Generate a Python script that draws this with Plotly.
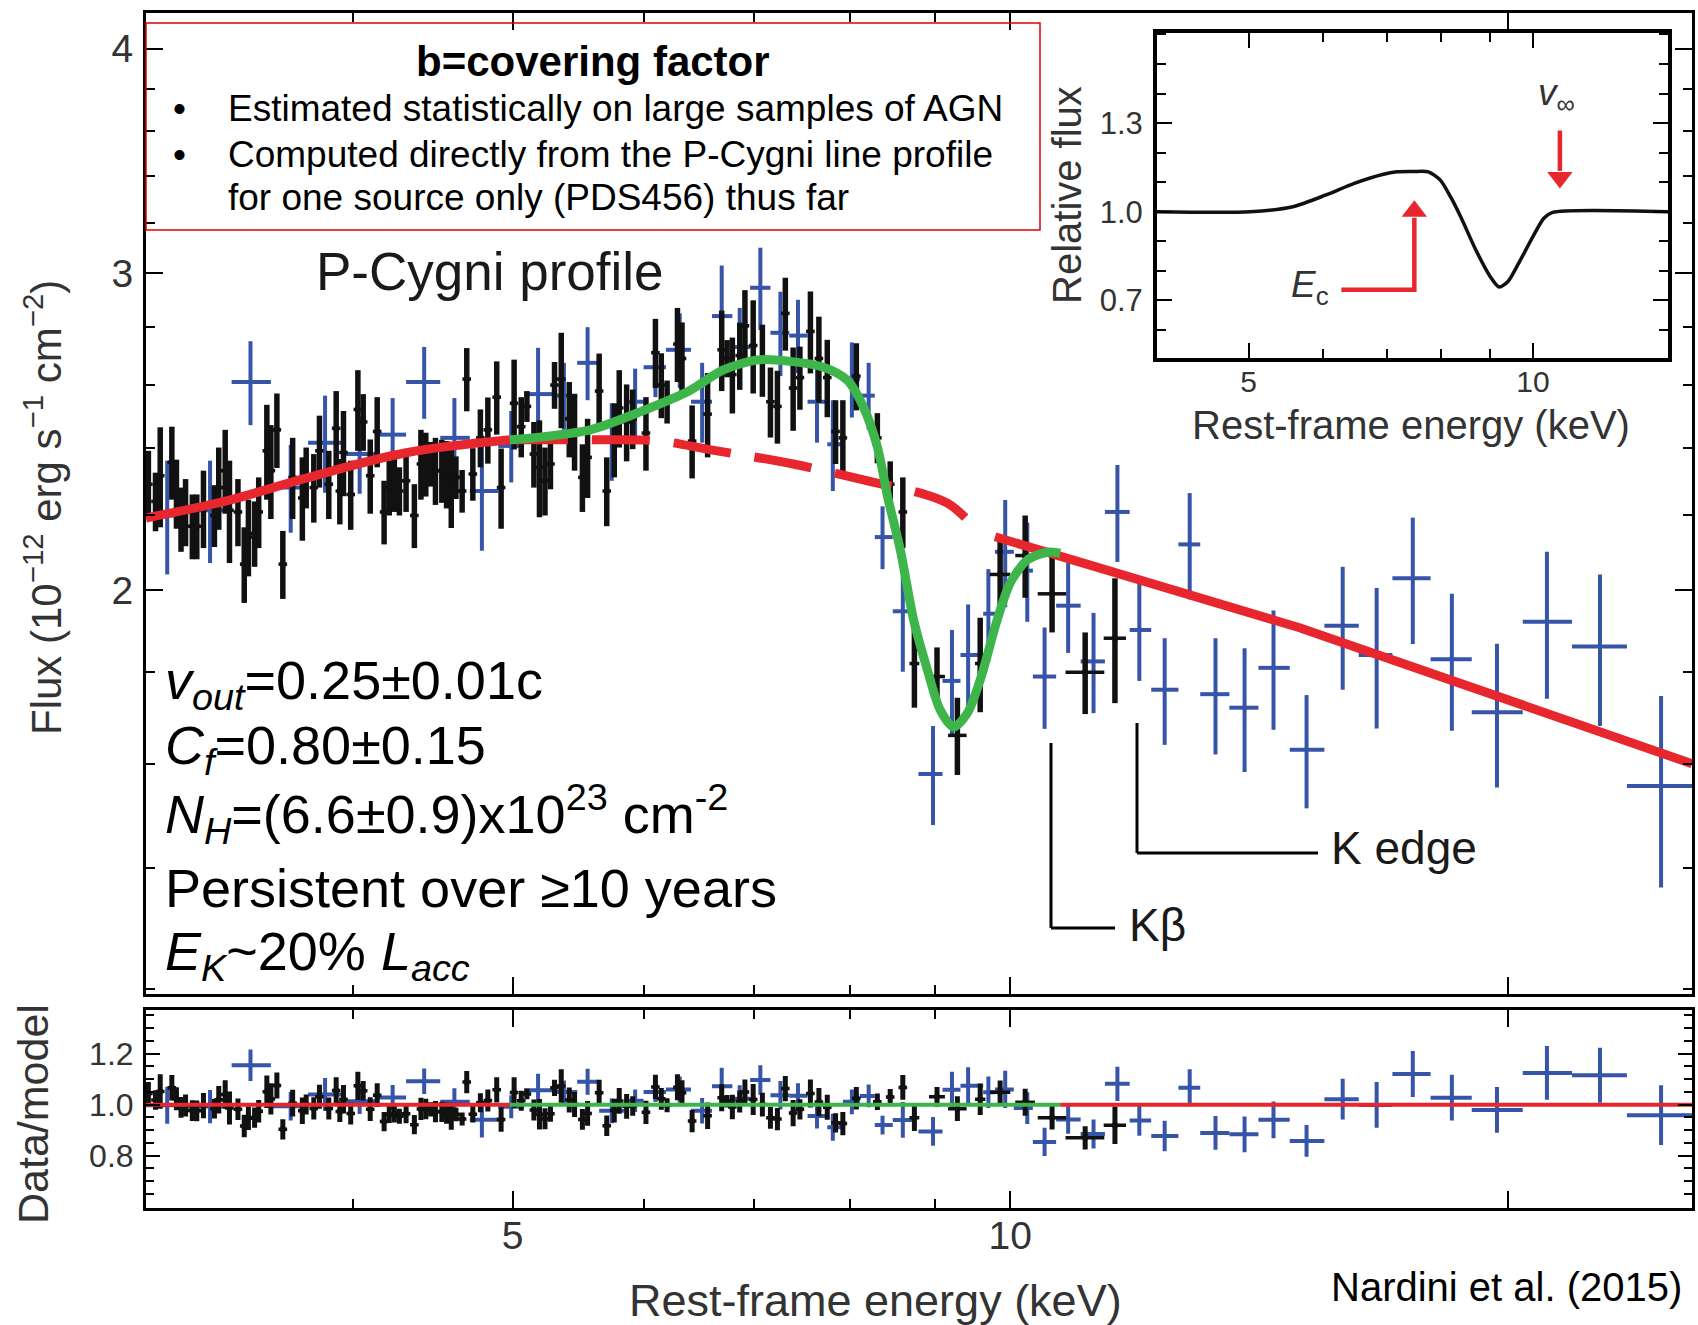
import numpy as np
import plotly.graph_objects as go

W, H = 1698, 1325

# ---------------- data ----------------
# XMM-Newton spectrum (black): rest-frame energy (keV), flux (1e-12 cgs), 1-sigma error
XMM_E = [3.01, 3.04, 3.06, 3.11, 3.13, 3.15, 3.17, 3.20, 3.22, 3.25,
         3.30, 3.32, 3.35, 3.37, 3.41, 3.44, 3.46, 3.49, 3.51, 3.55,
         3.57, 3.60, 3.63, 3.68, 3.73, 3.75, 3.79, 3.82, 3.87, 3.91,
         3.93, 3.95, 3.99, 4.03, 4.06, 4.10, 4.14, 4.18, 4.21, 4.24,
         4.27, 4.31, 4.36, 4.40, 4.43, 4.46, 4.49, 4.53, 4.56, 4.59,
         4.62, 4.66, 4.69, 4.73, 4.78, 4.83, 4.89, 4.92, 5.01, 5.06,
         5.10, 5.15, 5.19, 5.23, 5.27, 5.30,
         5.35, 5.41, 5.45, 5.51, 5.55, 5.64, 5.70, 5.76, 5.80, 5.86,
         5.91, 6.02, 6.10, 6.15, 6.20, 6.29, 6.33, 6.42, 6.56, 6.69,
         6.74, 6.79, 6.86, 6.91, 6.99, 7.08, 7.16, 7.23, 7.31, 7.39,
         7.46, 7.57, 7.66, 7.75, 7.84, 7.92, 8.07, 8.31, 8.46, 8.61,
         8.75, 9.03, 9.29, 9.59, 9.86, 10.21, 10.60, 11.10, 11.57]
XMM_F = [2.29, 2.24, 2.315, 2.355, 2.263, 2.19, 2.21, 2.17, 2.17, 2.22,
         2.20, 2.28, 2.33, 2.215, 2.21, 2.067, 2.14, 2.15, 2.21, 2.39,
         2.33, 2.455, 2.067, 2.31, 2.25, 2.31, 2.28, 2.39, 2.29, 2.46,
         2.27, 2.385, 2.26, 2.52, 2.48, 2.315, 2.45, 2.21, 2.28, 2.29,
         2.27, 2.30, 2.20, 2.35, 2.35, 2.35, 2.33, 2.33, 2.32, 2.29,
         2.31, 2.27, 2.62, 2.32, 2.43, 2.455, 2.56, 2.28, 2.54, 2.465,
         2.53, 2.38, 2.34, 2.30, 2.35, 2.60,
         2.62, 2.49, 2.45, 2.31, 2.37, 2.58, 2.27, 2.425, 2.525, 2.48,
         2.49, 2.445, 2.71, 2.60, 2.545, 2.74, 2.69, 2.42, 2.505, 2.72,
         2.69, 2.635, 2.70, 2.805, 2.735, 2.685, 2.545, 2.53, 2.85, 2.59,
         2.625, 2.785, 2.69, 2.625, 2.45, 2.43, 2.63, 2.43, 2.29, 2.21,
         1.82, 1.79, 1.66, 1.82, 2.04, 2.09, 1.99, 1.80, 1.88]
XMM_ERR = [0.10, 0.084, 0.148, 0.11, 0.10, 0.09, 0.095, 0.09, 0.09, 0.11,
           0.087, 0.12, 0.125, 0.145, 0.095, 0.10, 0.105, 0.09, 0.10, 0.145,
           0.14, 0.117, 0.09, 0.12, 0.12, 0.09, 0.10, 0.11, 0.10, 0.12,
           0.095, 0.13, 0.10, 0.13, 0.09, 0.11, 0.11, 0.09, 0.08, 0.08,
           0.07, 0.09, 0.09, 0.105, 0.096, 0.067, 0.10, 0.094, 0.10, 0.125,
           0.063, 0.062, 0.106, 0.078, 0.09, 0.104, 0.12, 0.117, 0.146, 0.095,
           0.05, 0.10, 0.145, 0.10, 0.075, 0.078,
           0.16, 0.12, 0.12, 0.10, 0.12, 0.127, 0.10, 0.115, 0.125, 0.122,
           0.095, 0.115, 0.12, 0.108, 0.07, 0.13, 0.127, 0.113, 0.135, 0.14,
           0.064, 0.128, 0.116, 0.131, 0.163, 0.124, 0.114, 0.118, 0.133, 0.138,
           0.106, 0.146, 0.148, 0.13, 0.10, 0.12, 0.113, 0.078, 0.068, 0.10,
           0.10, 0.068, 0.082, 0.11, 0.09, 0.11, 0.096, 0.094, 0.15]
# energy half-width of the XMM bins (narrow bins below 8.7 keV, wider ones above)
XMM_NARROW_FRAC = 0.006
XMM_TAIL_DE = [0.06, 0.10, 0.12, 0.07, 0.14, 0.14, 0.21, 0.30, 0.18]

# NuSTAR spectrum (blue): bin centre, bin edges, flux, error
NU_E = [3.09, 3.28, 3.47, 3.67, 3.85, 4.04, 4.23, 4.42, 4.61, 4.79,
        4.99, 5.18, 5.37, 5.55, 5.74, 5.93, 6.10, 6.31, 6.51, 6.69,
        6.86, 7.06, 7.26, 7.44, 7.64, 7.81, 8.02, 8.21, 8.37, 8.61,
        8.98, 9.22, 9.43, 9.70, 9.93, 10.24, 10.49, 10.84, 11.23, 11.61,
        11.97, 12.40, 12.84, 13.31, 13.86, 14.43, 15.11, 15.89, 16.66, 17.52,
        18.50, 19.70, 21.12, 22.74, 24.76]
NU_LO = [3.00, 3.18, 3.38, 3.57, 3.76, 3.95, 4.14, 4.31, 4.52, 4.71,
         4.90, 5.08, 5.29, 5.47, 5.64, 5.84, 6.00, 6.19, 6.41, 6.60,
         6.79, 6.96, 7.16, 7.35, 7.54, 7.75, 7.92, 8.11, 8.28, 8.49,
         8.80, 9.10, 9.33, 9.63, 9.79, 10.05, 10.32, 10.66, 11.03, 11.41,
         11.81, 12.17, 12.64, 13.03, 13.57, 14.13, 14.76, 15.49, 16.25, 17.03,
         17.96, 19.02, 20.42, 21.87, 23.61]
NU_HI = [3.18, 3.38, 3.57, 3.76, 3.95, 4.14, 4.31, 4.52, 4.71, 4.90,
         5.08, 5.29, 5.47, 5.64, 5.84, 6.00, 6.19, 6.41, 6.60, 6.79,
         6.96, 7.16, 7.35, 7.54, 7.75, 7.92, 8.11, 8.28, 8.49, 8.72,
         9.10, 9.33, 9.63, 9.79, 10.05, 10.32, 10.66, 11.03, 11.41, 11.81,
         12.17, 12.64, 13.03, 13.57, 14.13, 14.76, 15.49, 16.25, 17.03, 17.96,
         19.02, 20.42, 21.87, 23.61, 25.88]
NU_F = [2.20, 2.215, 2.61, 2.28, 2.415, 2.38, 2.44, 2.61, 2.43, 2.27,
        2.405, 2.57, 2.565, 2.675, 2.42, 2.545, 2.66, 2.72, 2.545, 2.84,
        2.73, 2.945, 2.78, 2.77, 2.545, 2.41, 2.62, 2.565, 2.14, 1.946,
        1.58, 1.78, 1.84, 1.94, 2.10, 2.05, 1.79, 1.96, 1.825, 2.21,
        1.90, 1.76, 2.12, 1.75, 1.72, 1.81, 1.63, 1.91, 1.84, 2.03,
        1.83, 1.71, 1.92, 1.86, 1.556]
NU_ERR = [0.16, 0.145, 0.14, 0.128, 0.15, 0.118, 0.117, 0.12, 0.127, 0.167,
          0.11, 0.157, 0.11, 0.125, 0.12, 0.11, 0.10, 0.13, 0.13, 0.19,
          0.14, 0.155, 0.15, 0.13, 0.13, 0.14, 0.126, 0.11, 0.086, 0.145,
          0.10, 0.12, 0.123, 0.114, 0.144, 0.13, 0.116, 0.115, 0.117, 0.137,
          0.12, 0.12, 0.144, 0.13, 0.136, 0.138, 0.118, 0.15, 0.165, 0.164,
          0.16, 0.157, 0.18, 0.18, 0.19]

# continuum model (red)
CONT_E = [3.00, 3.37, 3.75, 4.31, 4.98, 5.64, 6.14, 6.59, 7.39, 8.26,
          8.91, 9.20, 9.52, 9.79, 14.98, 25.85]
CONT_F = [2.193, 2.244, 2.308, 2.384, 2.424, 2.424, 2.42, 2.393, 2.35, 2.296,
          2.258, 2.230, 2.166, 2.141, 1.905, 1.601]
DASH_FROM, DASH_TO, SOLID_FROM = 4.98, 9.52, 9.79

# P-Cygni model (green)
PCYG_E = [4.98, 5.19, 5.57, 5.97, 6.40, 6.70, 7.03, 7.36, 7.71, 7.97,
          8.15, 8.31, 8.43, 8.58, 8.74, 8.91, 9.07, 9.24, 9.42, 9.59,
          9.82, 10.00, 10.24, 10.53, 10.72]
PCYG_F = [2.424, 2.432, 2.455, 2.512, 2.582, 2.650, 2.685, 2.680, 2.660, 2.616,
          2.528, 2.402, 2.253, 2.105, 1.925, 1.805, 1.715, 1.678, 1.708, 1.782,
          1.925, 2.018, 2.078, 2.099, 2.096]

# inset: relative P-Cygni profile
INSET_E = [4.0, 5.02, 5.57, 6.03, 6.47, 6.93, 7.18, 7.47, 7.75, 7.98,
           8.18, 8.40, 8.70, 9.01, 9.21, 9.41, 9.66, 10.0, 10.27, 10.49, 13.9]
INSET_R = [1.0, 1.0, 1.017, 1.056, 1.096, 1.126, 1.135, 1.136, 1.135, 1.107,
           1.051, 0.978, 0.871, 0.781, 0.745, 0.764, 0.826, 0.916, 0.978, 0.998, 1.0]
EC_E, EC_TAIL_E, EC_BASE_R, EC_TIP_R = 7.49, 6.27, 0.736, 1.039
VINF_E, VINF_TOP_R, VINF_TIP_R = 10.68, 1.275, 1.079

# ---------------- helpers ----------------
FONT = "Liberation Sans, Arial, sans-serif"
BLUE = "#3654a8"
BLACK = "#111111"
RED = "#e8262d"
GREEN = "#3db54a"
GREY = "#333333"


def px(x):
    return x / W


def py(y):
    return 1 - y / H


def loglog_interp(e, E, F):
    return 10 ** np.interp(np.log10(e), np.log10(E), np.log10(F))


def model_at(e):
    e = np.asarray(e, dtype=float)
    cont = loglog_interp(e, CONT_E, CONT_F)
    pc = loglog_interp(e, PCYG_E, PCYG_F)
    inside = (e >= PCYG_E[0]) & (e <= PCYG_E[-1])
    return np.where(inside, pc, cont)


xe = np.array(XMM_E)
xf = np.array(XMM_F)
xr = np.array(XMM_ERR)
n_tail = len(XMM_TAIL_DE)
xde = np.concatenate([xe[:-n_tail] * XMM_NARROW_FRAC, np.array(XMM_TAIL_DE)])

ne = np.array(NU_E)
nlo = np.array(NU_LO)
nhi = np.array(NU_HI)
nf = np.array(NU_F)
nr = np.array(NU_ERR)

ce = np.array(CONT_E)
cf = np.array(CONT_F)

fig = go.Figure()

# ---------------- main panel ----------------
fig.add_trace(go.Scatter(
    x=ne, y=nf, mode="markers", marker=dict(size=2, color=BLUE),
    error_y=dict(type="data", array=nr, thickness=4, width=0, color=BLUE),
    error_x=dict(type="data", symmetric=False, array=nhi - ne, arrayminus=ne - nlo,
                 thickness=4, width=0, color=BLUE),
    xaxis="x", yaxis="y", hoverinfo="skip"))
fig.add_trace(go.Scatter(
    x=xe, y=xf, mode="markers", marker=dict(size=5, color=BLACK, symbol="square"),
    error_y=dict(type="data", array=xr, thickness=5.5, width=0, color=BLACK),
    error_x=dict(type="data", array=xde, thickness=3.5, width=0, color=BLACK),
    xaxis="x", yaxis="y", hoverinfo="skip"))

m1 = ce <= DASH_FROM
m2 = (ce >= DASH_FROM) & (ce <= DASH_TO)
m3 = ce >= SOLID_FROM
fig.add_trace(go.Scatter(x=ce[m1], y=cf[m1], mode="lines", line=dict(color=RED, width=9, shape="spline"),
                         xaxis="x", yaxis="y", hoverinfo="skip"))
fig.add_trace(go.Scatter(x=ce[m2], y=cf[m2], mode="lines",
                         line=dict(color=RED, width=9, shape="spline", dash="58px,24px"),
                         xaxis="x", yaxis="y", hoverinfo="skip"))
fig.add_trace(go.Scatter(x=ce[m3], y=cf[m3], mode="lines", line=dict(color=RED, width=9),
                         xaxis="x", yaxis="y", hoverinfo="skip"))
fig.add_trace(go.Scatter(x=PCYG_E, y=PCYG_F, mode="lines",
                         line=dict(color=GREEN, width=9, shape="spline", smoothing=0.8),
                         xaxis="x", yaxis="y", hoverinfo="skip"))

# ---------------- residual panel ----------------
nmod = model_at(ne)
xmod = model_at(xe)
fig.add_trace(go.Scatter(
    x=ne, y=nf / nmod, mode="markers", marker=dict(size=2, color=BLUE),
    error_y=dict(type="data", array=nr / nmod, thickness=4, width=0, color=BLUE),
    error_x=dict(type="data", symmetric=False, array=nhi - ne, arrayminus=ne - nlo,
                 thickness=4, width=0, color=BLUE),
    xaxis="x2", yaxis="y2", hoverinfo="skip"))
fig.add_trace(go.Scatter(
    x=xe, y=xf / xmod, mode="markers", marker=dict(size=5, color=BLACK, symbol="square"),
    error_y=dict(type="data", array=xr / xmod, thickness=5, width=0, color=BLACK),
    error_x=dict(type="data", array=xde, thickness=3.5, width=0, color=BLACK),
    xaxis="x2", yaxis="y2", hoverinfo="skip"))
fig.add_trace(go.Scatter(x=[CONT_E[0], PCYG_E[0]], y=[1, 1], mode="lines",
                         line=dict(color=RED, width=4), xaxis="x2", yaxis="y2", hoverinfo="skip"))
fig.add_trace(go.Scatter(x=[PCYG_E[-1], CONT_E[-1]], y=[1, 1], mode="lines",
                         line=dict(color=RED, width=4), xaxis="x2", yaxis="y2", hoverinfo="skip"))
fig.add_trace(go.Scatter(x=[PCYG_E[0], PCYG_E[-1]], y=[1, 1], mode="lines",
                         line=dict(color=GREEN, width=4), xaxis="x2", yaxis="y2", hoverinfo="skip"))

# ---------------- inset ----------------
fig.add_trace(go.Scatter(x=INSET_E, y=INSET_R, mode="lines",
                         line=dict(color=BLACK, width=3.5, shape="spline", smoothing=0.7),
                         xaxis="x3", yaxis="y3", hoverinfo="skip"))
head = 0.037
fig.add_trace(go.Scatter(x=[EC_TAIL_E, EC_E, EC_E], y=[EC_BASE_R, EC_BASE_R, EC_TIP_R - 1.6 * head],
                         mode="lines", line=dict(color=RED, width=4.5),
                         xaxis="x3", yaxis="y3", hoverinfo="skip"))
fig.add_trace(go.Scatter(x=[EC_E], y=[EC_TIP_R - head], mode="markers",
                         marker=dict(symbol="triangle-up", size=22, color=RED),
                         xaxis="x3", yaxis="y3", hoverinfo="skip"))
fig.add_trace(go.Scatter(x=[VINF_E, VINF_E], y=[VINF_TOP_R, VINF_TIP_R + 1.6 * head],
                         mode="lines", line=dict(color=RED, width=4.5),
                         xaxis="x3", yaxis="y3", hoverinfo="skip"))
fig.add_trace(go.Scatter(x=[VINF_E], y=[VINF_TIP_R + head], mode="markers",
                         marker=dict(symbol="triangle-down", size=22, color=RED),
                         xaxis="x3", yaxis="y3", hoverinfo="skip"))

# ---------------- axes ----------------
XR = [np.log10(3.0), np.log10(25.85)]
XDOM = [px(146), px(1692)]


def frame(width=3):
    return dict(showline=True, linewidth=width, linecolor="black", mirror="ticks",
                showgrid=False, zeroline=False, ticks="inside", tickcolor="black")


main_minor_y = [1.2, 1.4, 1.6, 1.8, 2.2, 2.4, 2.6, 2.8, 3.2, 3.4, 3.6, 3.8, 4.2]

fig.update_layout(
    width=W, height=H, margin=dict(l=0, r=0, t=0, b=0),
    paper_bgcolor="white", plot_bgcolor="white", showlegend=False,
    font=dict(family=FONT, color=GREY),
    xaxis=dict(domain=XDOM, anchor="y", type="log", range=XR,
               tickvals=[5, 10, 20], showticklabels=False, ticklen=17, tickwidth=2,
               minor=dict(tickvals=[4, 6, 7, 8, 9], ticklen=9, tickwidth=2, ticks="inside",
                          tickcolor="black"),
               **frame(3)),
    yaxis=dict(domain=[py(994), py(13)], anchor="x", type="log",
               range=[np.log10(1.192), np.log10(4.187)],
               tickvals=[2, 3, 4], ticktext=["2", "3", "4"], ticklen=17, tickwidth=2,
               tickfont=dict(size=39, color=GREY), ticklabelstandoff=2,
               minor=dict(tickvals=main_minor_y, ticklen=9, tickwidth=2, ticks="inside",
                          tickcolor="black"),
               **frame(3)),
    xaxis2=dict(domain=XDOM, anchor="y2", type="log", range=XR,
                tickvals=[5, 10, 20], ticktext=["5", "10", ""], ticklen=17, tickwidth=2,
                tickfont=dict(size=39, color=GREY), ticklabelstandoff=-8,
                minor=dict(tickvals=[4, 6, 7, 8, 9], ticklen=9, tickwidth=2, ticks="inside",
                           tickcolor="black"),
                **frame(3)),
    yaxis2=dict(domain=[py(1207.5), py(1010)], anchor="x2", range=[0.597, 1.371],
                tickvals=[0.8, 1.0, 1.2], ticktext=["0.8", "1.0", "1.2"], ticklen=14, tickwidth=2,
                tickfont=dict(size=32, color=GREY), ticklabelstandoff=3,
                minor=dict(dtick=0.05, ticklen=8, tickwidth=1.5, ticks="inside", tickcolor="black"),
                **frame(3)),
    xaxis3=dict(domain=[px(1157), px(1668)], anchor="y3", type="log",
                range=[np.log10(4.0), np.log10(13.9)],
                tickvals=[5, 10], ticktext=["5", "10"], ticklen=15, tickwidth=2,
                tickfont=dict(size=30, color=GREY), ticklabelstandoff=-6,
                minor=dict(tickvals=[6, 7, 8, 9], ticklen=9, tickwidth=2, ticks="inside",
                           tickcolor="black"),
                **frame(4)),
    yaxis3=dict(domain=[py(358), py(33)], anchor="x3", range=[0.505, 1.605],
                tickvals=[0.7, 1.0, 1.3], ticktext=["0.7", "1.0", "1.3"], ticklen=15, tickwidth=2,
                tickfont=dict(size=31, color=GREY), ticklabelstandoff=4,
                minor=dict(dtick=0.1, ticklen=9, tickwidth=2, ticks="inside", tickcolor="black"),
                **frame(4)),
)

# ---------------- shapes ----------------
shapes = [
    dict(type="rect", xref="paper", yref="paper", x0=px(146), x1=px(1040), y0=py(230), y1=py(23),
         line=dict(color="#e00000", width=1.5)),
    # K-beta bracket
    dict(type="line", xref="paper", yref="paper", x0=px(1051), x1=px(1051), y0=py(743), y1=py(928),
         line=dict(color="black", width=3)),
    dict(type="line", xref="paper", yref="paper", x0=px(1051), x1=px(1115), y0=py(928), y1=py(928),
         line=dict(color="black", width=3)),
    # K edge bracket
    dict(type="line", xref="paper", yref="paper", x0=px(1137), x1=px(1137), y0=py(723), y1=py(853),
         line=dict(color="black", width=3)),
    dict(type="line", xref="paper", yref="paper", x0=px(1137), x1=px(1318), y0=py(853), y1=py(853),
         line=dict(color="black", width=3)),
]
fig.update_layout(shapes=shapes)


def ann(text, x, y, size, color="black", xanchor="left", angle=0, bold=False):
    if bold:
        text = "<b>" + text + "</b>"
    return dict(text=text, x=px(x), y=py(y), xref="paper", yref="paper", showarrow=False,
                xanchor=xanchor, yanchor="middle", textangle=angle,
                font=dict(family=FONT, size=size, color=color))


anns = [
    ann("b=covering factor", 593, 62, 42, xanchor="center", bold=True),
    ann("•", 179, 108, 37, xanchor="center"),
    ann("Estimated statistically on large samples of AGN", 226, 108, 37),
    ann("•", 179, 154, 37, xanchor="center"),
    ann("Computed directly from the P-Cygni line profile", 226, 154, 37),
    ann("for one source only (PDS456) thus far", 226, 197, 37),
    ann("P-Cygni profile", 490, 271, 53, color="#1a1a1a", xanchor="center"),
    ann("<i>v<sub>out</sub></i>=0.25±0.01c", 163, 684, 54),
    ann("<i>C<sub>f</sub></i>=0.80±0.15", 163, 749, 54),
    ann("<i>N<sub>H</sub></i>=(6.6±0.9)x10<sup>23</sup> cm<sup>-2</sup>", 163, 814, 54),
    ann("Persistent over ≥10 years", 163, 888, 54),
    ann("<i>E<sub>K</sub></i>~20% <i>L<sub>acc</sub></i>", 163, 955, 54),
    ann("Kβ", 1127, 925, 46, color="#1a1a1a"),
    ann("K edge", 1329, 848, 46, color="#1a1a1a"),
    ann("Nardini et al. (2015)", 1684, 1287, 40, xanchor="right"),
    ann("Flux (10<sup>−12</sup> erg s<sup>−1</sup> cm<sup>−2</sup>)", 43, 508, 42, color=GREY,
        xanchor="center", angle=-90),
    ann("Data/model", 33, 1114, 43, color=GREY, xanchor="center", angle=-90),
    ann("Rest-frame energy (keV)", 875, 1300, 45, color=GREY, xanchor="center"),
    ann("Rest-frame energy (keV)", 1411, 425, 40, color=GREY, xanchor="center"),
    ann("Relative flux", 1067, 195, 40, color=GREY, xanchor="center", angle=-90),
    ann("<i>E</i><sub>c</sub>", 1331, 287, 37, color=GREY, xanchor="right"),
    ann("<i>v</i><sub>∞</sub>", 1556, 95, 37, color=GREY, xanchor="center"),
]
fig.update_layout(annotations=anns)

fig.write_html("out.html")
